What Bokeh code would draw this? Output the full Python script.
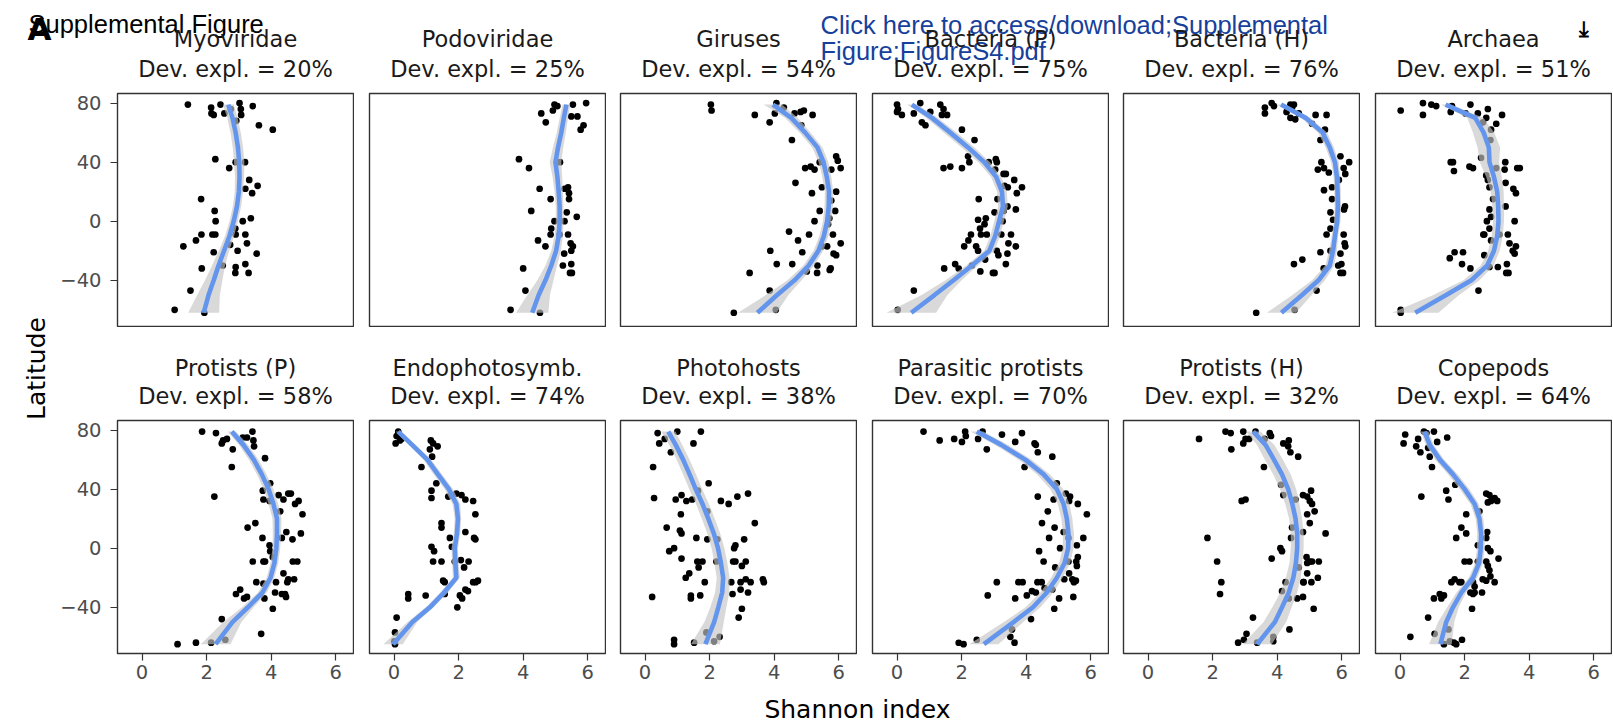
from math import pi
from bokeh.plotting import figure
from bokeh.layouts import row, column
from bokeh.models import Range1d, FixedTicker, Label
from bokeh.embed import file_html
from bokeh.resources import INLINE

# ---------------- data ----------------
names = ["Myoviridae", "Podoviridae", "Giruses", "Bacteria (P)", "Bacteria (H)", "Archaea",
         "Protists (P)", "Endophotosymb.", "Photohosts", "Parasitic protists", "Protists (H)", "Copepods"]
dev_expl = [20, 25, 54, 75, 76, 51, 58, 74, 38, 70, 32, 64]

x_ticks = [0, 2, 4, 6]
y_ticks = [-40, 0, 40, 80]

# latitudes at which the smooth fit was read (top row / bottom row)
lat_fit_top = [-62, -50, -40, -30, -20, -10, 0, 10, 20, 30, 40, 50, 60, 70, 79]
lat_fit_bot = [-65, -50, -40, -30, -20, -10, 0, 10, 20, 30, 40, 50, 60, 70, 79]

# Myoviridae
myo_x = [1.42, 2.14, 2.15, 2.22, 2.43, 2.55, 2.75, 3.02, 3.06, 3.07, 3.43, 2.92, 3.62, 4.05, 2.27, 2.70, 2.90, 3.19, 3.32, 3.58, 3.20, 3.41, 1.83, 2.25, 2.28, 3.12, 3.37, 2.89, 1.84, 2.18, 2.27, 2.90, 3.20, 1.67, 1.28, 3.25, 2.73, 2.22, 2.96, 3.55, 2.50, 2.90, 3.20, 2.89, 3.30, 1.85, 1.50, 1.01, 1.93]
myo_y = [79, 77, 73, 72, 79, 73, 76, 80, 76, 72, 78, 68, 65, 62, 42, 36, 40, 40, 28, 24, 22, 19, 15, 7, 0, 0, 2, -5, -9, -9, -9, -9, -9, -13, -17, -15, -16, -21, -20, -22, -30, -31, -29, -35, -35, -32, -47, -60, -62]
myo_fit = [1.91, 2.06, 2.22, 2.37, 2.54, 2.71, 2.84, 2.94, 3.00, 3.02, 3.01, 2.97, 2.90, 2.80, 2.67]
myo_se = [0.48, 0.35, 0.27, 0.20, 0.16, 0.14, 0.13, 0.13, 0.13, 0.14, 0.16, 0.16, 0.16, 0.16, 0.17]

# Podoviridae
podo_x = [4.97, 5.06, 4.92, 5.54, 5.95, 4.56, 4.70, 5.68, 5.49, 5.87, 5.78, 3.87, 4.18, 5.14, 4.51, 5.39, 5.42, 5.28, 4.85, 5.42, 4.25, 5.35, 5.66, 4.97, 5.28, 4.87, 4.85, 5.39, 5.13, 4.46, 4.69, 5.47, 5.54, 5.49, 5.27, 5.23, 5.49, 5.45, 5.51, 4.00, 4.07, 3.61, 4.52]
podo_y = [79, 78, 75, 79, 80, 73, 67, 71, 71, 65, 62, 42, 36, 40, 22, 23, 19, 22, 15, 15, 7, 6, 3, 0, 0, -5, -9, -9, -9, -13, -17, -15, -17, -20, -22, -30, -29, -35, -35, -32, -47, -60, -62]
podo_fit = [4.28, 4.48, 4.69, 4.87, 5.02, 5.10, 5.13, 5.13, 5.10, 5.06, 5.00, 5.08, 5.18, 5.26, 5.34]
podo_se = [0.50, 0.35, 0.25, 0.18, 0.15, 0.13, 0.12, 0.12, 0.13, 0.15, 0.18, 0.16, 0.14, 0.13, 0.12]

# Giruses
gir_x = [2.04, 2.06, 4.07, 4.02, 4.30, 3.40, 3.86, 4.63, 4.82, 4.92, 5.19, 4.84, 4.55, 5.92, 5.97, 6.06, 4.96, 5.13, 5.25, 5.41, 5.77, 4.66, 5.48, 5.17, 5.92, 5.77, 5.89, 5.41, 5.25, 5.71, 5.67, 4.46, 4.74, 5.08, 5.82, 3.88, 4.87, 5.64, 6.06, 5.48, 5.92, 5.84, 4.08, 4.56, 5.34, 5.33, 5.75, 5.72, 5.01, 3.24, 3.86, 4.05, 2.75]
gir_y = [79, 75, 80, 73, 77, 72, 67, 73, 74, 75, 72, 65, 55, 44, 41, 36, 36, 37, 35, 40, 35, 26, 23, 19, 20, 14, 7, 7, 0, 2, -2, -7, -13, -9, -9, -20, -21, -17, -15, -17, -23, -22, -29, -29, -30, -35, -32, -33, -34, -35, -47, -60, -62]
gir_fit = [3.48, 4.09, 4.63, 5.07, 5.37, 5.54, 5.64, 5.69, 5.70, 5.63, 5.53, 5.34, 4.96, 4.53, 3.96]
gir_se = [0.60, 0.35, 0.22, 0.17, 0.15, 0.14, 0.13, 0.13, 0.13, 0.14, 0.15, 0.16, 0.17, 0.20, 0.28]

# Bacteria (P)
bacp_x = [0.00, 0.03, 0.00, 0.15, 0.72, 0.52, 1.03, 0.77, 0.88, 1.34, 1.44, 1.39, 1.55, 2.01, 2.40, 1.44, 1.65, 2.01, 2.20, 2.24, 2.84, 3.06, 3.09, 3.04, 3.30, 3.37, 3.63, 3.33, 3.43, 3.87, 3.71, 3.11, 2.53, 3.42, 3.68, 3.02, 3.30, 2.51, 2.75, 2.71, 2.57, 3.27, 2.29, 2.60, 2.78, 3.23, 3.53, 2.21, 2.08, 2.45, 2.51, 3.45, 3.68, 3.09, 3.14, 3.42, 3.37, 2.73, 1.46, 1.80, 1.91, 2.32, 2.58, 2.97, 3.02, 0.52, 0.02]
bacp_y = [79, 76, 74, 72, 80, 73, 74, 67, 65, 79, 76, 72, 72, 62, 55, 36, 37, 36, 44, 40, 40, 42, 40, 35, 32, 32, 28, 24, 23, 23, 19, 15, 15, 10, 8, 6, 7, 1, 2, -2, -5, 0, -9, -9, -9, -9, -9, -13, -17, -17, -20, -15, -17, -20, -23, -22, -29, -26, -32, -29, -32, -30, -34, -35, -35, -47, -60]
bacp_fit = [0.44, 1.16, 1.75, 2.32, 2.86, 3.04, 3.16, 3.28, 3.25, 3.07, 2.70, 2.20, 1.65, 1.08, 0.46]
bacp_se = [0.77, 0.40, 0.25, 0.18, 0.16, 0.15, 0.15, 0.15, 0.15, 0.16, 0.18, 0.20, 0.20, 0.18, 0.15]

# Bacteria (H)
bach_x = [3.62, 3.62, 3.83, 3.90, 4.41, 4.52, 4.46, 4.29, 4.67, 4.41, 4.56, 5.19, 5.53, 5.08, 5.48, 5.34, 5.96, 6.23, 5.37, 5.45, 5.26, 6.06, 6.11, 5.60, 5.91, 5.45, 5.70, 5.70, 6.10, 6.07, 5.65, 5.73, 5.65, 6.06, 5.53, 6.09, 6.11, 5.34, 5.96, 5.65, 4.78, 4.52, 5.44, 5.89, 5.99, 5.96, 6.04, 5.22, 4.54, 3.35]
bach_y = [77, 73, 80, 78, 79, 79, 77, 74, 73, 70, 69, 72, 72, 66, 62, 55, 44, 40, 40, 36, 35, 36, 32, 33, 28, 21, 23, 15, 10, 8, 6, 1, -5, -9, -9, -15, -17, -21, -22, -20, -26, -29, -32, -30, -29, -35, -35, -47, -60, -62]
bach_fit = [4.13, 4.77, 5.28, 5.63, 5.73, 5.79, 5.86, 5.88, 5.87, 5.85, 5.79, 5.63, 5.41, 4.88, 4.12]
bach_se = [0.45, 0.30, 0.20, 0.14, 0.12, 0.10, 0.10, 0.10, 0.10, 0.10, 0.12, 0.13, 0.14, 0.14, 0.14]

# Archaea
arch_x = [0.02, 0.71, 0.71, 0.97, 1.12, 1.57, 1.61, 2.18, 2.03, 2.41, 2.72, 2.67, 2.57, 3.16, 2.98, 2.82, 2.80, 2.51, 1.57, 1.64, 1.67, 2.15, 2.26, 3.26, 3.24, 3.63, 3.71, 2.98, 2.67, 2.72, 3.27, 2.77, 3.51, 3.59, 2.88, 3.27, 2.77, 2.82, 3.55, 2.69, 2.77, 2.58, 2.61, 3.08, 3.34, 2.82, 3.39, 3.59, 3.49, 3.55, 2.61, 1.69, 1.95, 1.54, 1.92, 2.18, 2.77, 3.03, 3.31, 3.29, 3.36, 2.43, 0.02, 0.02]
arch_y = [75, 80, 72, 79, 78, 74, 78, 79, 73, 73, 76, 70, 67, 72, 66, 62, 55, 43, 40, 40, 34, 37, 36, 40, 35, 36, 36, 36, 31, 28, 26, 23, 22, 19, 15, 10, 8, 3, 0, 0, -5, -9, -9, -9, -9, -13, -15, -17, -20, -22, -23, -21, -21, -25, -29, -32, -31, -31, -29, -35, -35, -47, -60, -62]
arch_fit = [0.47, 1.43, 2.21, 2.70, 2.91, 3.01, 3.05, 3.04, 3.01, 2.91, 2.77, 2.75, 2.59, 2.33, 1.41]
arch_se = [0.72, 0.40, 0.25, 0.20, 0.18, 0.17, 0.17, 0.18, 0.20, 0.24, 0.30, 0.35, 0.33, 0.25, 0.15]

# Protists (P)
prop_x = [1.86, 2.29, 2.51, 2.47, 2.63, 2.81, 3.12, 3.25, 3.42, 3.45, 3.47, 3.81, 2.78, 2.24, 3.97, 3.74, 3.76, 4.23, 4.38, 4.53, 4.61, 4.74, 4.85, 3.95, 4.28, 4.97, 3.51, 3.27, 4.47, 4.92, 3.73, 4.66, 4.33, 3.95, 3.97, 4.05, 3.43, 3.81, 3.76, 4.67, 4.81, 4.38, 4.53, 4.50, 4.71, 3.54, 3.76, 4.15, 3.04, 2.91, 3.25, 3.16, 4.12, 4.33, 4.43, 4.46, 3.79, 4.05, 2.47, 3.69, 1.10, 1.67, 2.14, 2.58]
prop_y = [79, 78, 73, 71, 74, 67, 75, 75, 79, 73, 69, 61, 55, 35, 44, 39, 33, 36, 33, 37, 37, 30, 32, 32, 25, 23, 17, 14, 11, 10, 7, 6, 7, 2, -2, -6, -9, -9, -9, -9, -9, -17, -21, -23, -21, -23, -24, -23, -28, -31, -33, -34, -30, -31, -31, -33, -34, -41, -48, -58, -65, -64, -64, -62]
prop_fit = [2.28, 2.80, 3.28, 3.73, 3.98, 4.10, 4.16, 4.18, 4.18, 4.07, 3.92, 3.71, 3.46, 3.14, 2.78]
prop_se = [0.46, 0.28, 0.18, 0.14, 0.12, 0.12, 0.12, 0.13, 0.14, 0.15, 0.15, 0.15, 0.15, 0.14, 0.13]

# Endophotosymb.
endo_x = [0.13, 0.08, 0.05, 0.18, 0.23, 1.14, 1.21, 1.35, 1.11, 1.18, 0.85, 1.31, 1.16, 1.16, 1.68, 1.93, 2.09, 2.21, 2.45, 2.52, 1.47, 1.47, 2.21, 1.73, 2.48, 2.52, 1.16, 1.24, 1.79, 1.21, 1.47, 2.07, 2.31, 2.17, 1.88, 1.52, 1.57, 2.45, 2.60, 2.53, 2.21, 2.29, 2.04, 2.11, 0.44, 0.44, 0.98, 1.96, 1.57, 0.08, 0.03, 0.01, 0.03]
endo_y = [79, 76, 71, 73, 74, 73, 71, 69, 67, 62, 55, 44, 39, 34, 35, 37, 36, 33, 32, 23, 17, 14, 11, 7, 7, 6, 1, -2, 1, -9, -9, -8, -9, -13, -9, -22, -23, -23, -22, -23, -28, -29, -32, -34, -31, -34, -32, -40, -31, -47, -57, -63, -65]
endo_fit = [-0.03, 0.57, 1.11, 1.55, 1.93, 1.90, 1.88, 1.95, 1.98, 1.93, 1.70, 1.36, 1.03, 0.56, 0.13]
endo_se = [0.30, 0.15, 0.12, 0.12, 0.11, 0.10, 0.10, 0.10, 0.10, 0.12, 0.13, 0.13, 0.12, 0.10, 0.08]

# Photohosts
phot_x = [0.39, 0.44, 0.61, 1.00, 0.80, 1.73, 1.50, 0.25, 0.28, 0.95, 1.13, 1.28, 1.64, 1.46, 1.97, 1.11, 2.35, 2.59, 2.86, 3.19, 3.40, 0.67, 1.08, 1.13, 1.59, 1.93, 1.93, 2.24, 3.07, 2.76, 2.80, 0.90, 0.75, 1.13, 1.62, 1.78, 1.66, 2.21, 2.73, 2.80, 3.12, 3.00, 1.37, 1.26, 1.85, 2.67, 2.96, 3.12, 3.27, 3.65, 3.68, 2.96, 3.19, 2.71, 0.22, 1.42, 1.42, 1.71, 3.00, 2.90, 0.90, 0.90, 1.52, 1.90, 2.14, 2.31]
phot_y = [78, 71, 74, 79, 65, 79, 71, 55, 34, 33, 36, 32, 39, 33, 44, 23, 32, 30, 35, 37, 17, 14, 12, 10, 7, 25, 6, 6, 6, 0, 2, 0, -2, -7, -9, -9, -13, -9, -9, -9, -9, -12, -17, -20, -23, -23, -23, -21, -23, -21, -23, -28, -30, -31, -33, -32, -34, -32, -41, -47, -62, -65, -64, -57, -63, -60]
phot_fit = [1.87, 2.14, 2.27, 2.39, 2.42, 2.35, 2.26, 2.13, 1.96, 1.78, 1.57, 1.38, 1.18, 0.95, 0.72]
phot_se = [0.45, 0.30, 0.25, 0.22, 0.20, 0.20, 0.20, 0.20, 0.20, 0.20, 0.20, 0.20, 0.20, 0.20, 0.22]

# Parasitic protists
para_x = [0.82, 1.32, 1.77, 2.01, 2.11, 2.13, 2.51, 2.65, 2.78, 3.25, 3.66, 3.87, 4.26, 4.30, 4.36, 4.81, 3.95, 4.95, 4.36, 4.85, 5.23, 5.36, 5.33, 5.60, 4.67, 5.88, 4.49, 4.88, 5.16, 5.77, 4.71, 5.31, 5.57, 5.05, 4.40, 5.60, 5.55, 5.31, 4.54, 5.57, 4.90, 5.33, 5.18, 5.43, 5.54, 5.48, 3.09, 3.76, 3.89, 4.35, 4.48, 4.18, 4.02, 4.57, 4.81, 4.30, 2.81, 3.66, 5.02, 5.46, 4.87, 4.15, 3.56, 3.51, 3.64, 1.91, 2.06, 2.47]
para_y = [79, 73, 74, 72, 79, 76, 74, 79, 67, 77, 72, 78, 71, 70, 65, 62, 55, 44, 35, 33, 37, 35, 32, 30, 25, 23, 17, 14, 11, 7, 7, 7, 2, 0, -2, -6, -9, -9, -9, -12, -13, -17, -21, -21, -22, -23, -23, -23, -23, -23, -23, -29, -32, -27, -28, -30, -32, -34, -34, -33, -41, -48, -55, -60, -64, -64, -65, -62]
para_fit = [2.69, 3.61, 4.21, 4.64, 4.95, 5.19, 5.30, 5.31, 5.26, 5.16, 4.95, 4.54, 3.97, 3.23, 2.47]
para_se = [0.45, 0.30, 0.23, 0.20, 0.18, 0.17, 0.17, 0.17, 0.17, 0.18, 0.20, 0.20, 0.20, 0.20, 0.20]

# Protists (H)
proh_x = [1.58, 2.40, 2.56, 2.58, 2.95, 2.95, 3.02, 3.33, 3.13, 3.77, 3.81, 3.61, 4.19, 4.36, 4.34, 4.41, 4.65, 3.59, 2.90, 3.02, 5.05, 4.80, 4.93, 5.01, 5.08, 5.16, 4.19, 4.57, 4.12, 4.93, 5.01, 5.50, 1.84, 4.46, 4.80, 4.43, 4.10, 4.15, 3.83, 4.91, 5.01, 4.93, 5.08, 5.29, 2.14, 4.67, 4.93, 5.26, 4.81, 4.82, 5.06, 4.26, 2.27, 2.23, 4.15, 4.62, 4.80, 4.36, 5.13, 3.25, 4.38, 3.05, 2.97, 2.79, 3.38, 3.88, 3.88]
proh_y = [74, 79, 78, 67, 79, 71, 74, 79, 74, 78, 76, 74, 71, 73, 69, 65, 62, 55, 32, 33, 39, 36, 35, 32, 30, 25, 36, 33, 43, 23, 17, 10, 7, 14, 11, 7, 0, -2, -7, -6, -9, -10, -9, -9, -9, -13, -17, -20, -23, -23, -23, -23, -23, -31, -29, -34, -33, -34, -41, -47, -55, -58, -62, -64, -64, -60, -63]
proh_fit = [3.38, 3.93, 4.15, 4.36, 4.50, 4.58, 4.62, 4.62, 4.57, 4.47, 4.34, 4.15, 3.90, 3.64, 3.26]
proh_se = [0.45, 0.35, 0.30, 0.26, 0.23, 0.20, 0.20, 0.20, 0.20, 0.22, 0.25, 0.27, 0.28, 0.27, 0.22]

# Copepods
cope_x = [0.16, 0.11, 0.56, 0.50, 0.63, 0.74, 0.82, 1.05, 1.15, 1.46, 0.87, 0.92, 0.99, 0.66, 1.43, 1.50, 1.71, 2.67, 2.77, 2.93, 3.01, 2.82, 2.72, 2.46, 2.05, 1.90, 2.05, 1.74, 2.70, 2.67, 2.41, 2.72, 2.80, 2.00, 2.15, 2.41, 2.67, 3.05, 2.72, 2.77, 2.80, 2.56, 2.67, 2.93, 1.59, 1.69, 1.84, 1.90, 2.26, 2.31, 2.18, 2.26, 2.31, 2.54, 1.23, 1.36, 1.05, 1.28, 2.23, 0.87, 1.50, 0.32, 1.07, 1.36, 1.67, 1.74, 1.92, 1.54]
cope_y = [77, 71, 74, 69, 65, 79, 78, 79, 72, 75, 68, 62, 55, 35, 39, 33, 43, 37, 36, 34, 32, 32, 31, 25, 23, 14, 10, 7, 11, 7, 2, 0, -2, -9, -9, -9, -9, -7, -12, -15, -19, -21, -22, -23, -23, -21, -23, -23, -23, -26, -30, -31, -30, -30, -31, -32, -34, -34, -41, -47, -55, -60, -58, -65, -64, -65, -62, -63]
cope_fit = [1.25, 1.43, 1.64, 1.90, 2.26, 2.45, 2.50, 2.51, 2.46, 2.31, 2.00, 1.64, 1.23, 0.92, 0.76]
cope_se = [0.35, 0.25, 0.18, 0.15, 0.13, 0.12, 0.12, 0.12, 0.12, 0.13, 0.15, 0.15, 0.14, 0.12, 0.12]

top_panels = [(myo_x, myo_y, myo_fit, myo_se), (podo_x, podo_y, podo_fit, podo_se),
              (gir_x, gir_y, gir_fit, gir_se), (bacp_x, bacp_y, bacp_fit, bacp_se),
              (bach_x, bach_y, bach_fit, bach_se), (arch_x, arch_y, arch_fit, arch_se)]
bot_panels = [(prop_x, prop_y, prop_fit, prop_se), (endo_x, endo_y, endo_fit, endo_se),
              (phot_x, phot_y, phot_fit, phot_se), (para_x, para_y, para_fit, para_se),
              (proh_x, proh_y, proh_fit, proh_se), (cope_x, cope_y, cope_fit, cope_se)]

# ---------------- layout / style ----------------
X_RANGE = (-0.76, 6.55)
Y_RANGE = (-71.3, 86.5)
FRAME_W, FRAME_H = 236, 233
LAT_W = 52
LEFT_BORDERS = [65, 15, 14, 15, 14, 15]      # left border of each column's figure
TOTAL_W = LAT_W + sum(b + FRAME_W + 1 for b in LEFT_BORDERS)
HEADER_H, MID_H, XLAB_H = 92, 92, 34
BOTTOM_AXIS = 37
BASE_SHIFT = 8        # alphabetic labels render this much lower than their anchor

FONT = "DejaVu Sans"
STRIP_COLOR = "#1A1A1A"
TICK_COLOR = "#4D4D4D"
FRAME_COLOR = "#333333"

# frame centres in page x
centres = []
_x = LAT_W
for b in LEFT_BORDERS:
    centres.append(_x + b + FRAME_W / 2)
    _x += b + FRAME_W + 1


def panel(data, lat, col, bottom_row):
    xs, ys, fit, se = data
    n = min(len(xs), len(ys))
    first_col = col == 0
    left = LEFT_BORDERS[col]
    bottom = BOTTOM_AXIS if bottom_row else 1
    p = figure(width=left + FRAME_W + 1, height=1 + FRAME_H + bottom,
               x_range=Range1d(*X_RANGE), y_range=Range1d(*Y_RANGE),
               output_backend="svg", toolbar_location=None, tools="",
               min_border_left=left, min_border_right=1, min_border_top=1, min_border_bottom=bottom,
               x_axis_location="below" if bottom_row else None,
               y_axis_location="left" if first_col else None)
    p.grid.visible = False
    p.outline_line_color = FRAME_COLOR
    p.outline_line_width = 1.4
    p.background_fill_color = "white"
    p.border_fill_color = "white"
    for ax in p.axis:
        ax.axis_line_color = None
        ax.major_tick_line_color = FRAME_COLOR
        ax.major_tick_line_width = 1.2
        ax.major_tick_out = 7
        ax.major_tick_in = 0
        ax.minor_tick_line_color = None
        ax.major_label_text_font = FONT
        ax.major_label_text_font_size = "19.5px"
        ax.major_label_text_color = TICK_COLOR
    if bottom_row:
        p.xaxis.ticker = FixedTicker(ticks=x_ticks)
        p.xaxis.major_label_standoff = 4
    if first_col:
        p.yaxis.ticker = FixedTicker(ticks=y_ticks)
        p.yaxis.major_label_overrides = {t: str(t).replace("-", "\u2212") for t in y_ticks}
        p.yaxis.major_label_standoff = 9

    p.scatter(xs[:n], ys[:n], size=6.7, color="black", line_width=0)
    lo = [f - s for f, s in zip(fit, se)]
    hi = [f + s for f, s in zip(fit, se)]
    p.harea(y=lat, x1=lo, x2=hi, fill_color="#C4C4C4", fill_alpha=0.65)
    p.line(fit, lat, line_color="#6495ED", line_width=4.6)
    return p


def strip(w, h):
    p = figure(width=w, height=h, x_range=Range1d(0, w), y_range=Range1d(h, 0),
               min_border=0, output_backend="svg", toolbar_location=None, tools="",
               x_axis_location=None, y_axis_location=None)
    p.grid.visible = False
    p.outline_line_color = None
    p.background_fill_color = "white"
    p.border_fill_color = "white"
    return p


def txt(p, x, y, text, size, font=FONT, color="black", align="center", baseline="alphabetic",
        style="normal", angle=0.0):
    if baseline == "alphabetic":
        y = y - BASE_SHIFT
    p.add_layout(Label(x=x, y=y, text=text, text_font=font, text_font_size=size,
                       text_color=color, text_align=align, text_baseline=baseline,
                       text_font_style=style, angle=angle))


# header strip (page captions + top-row strip titles); y values are baselines in page px
header = strip(TOTAL_W, HEADER_H)
txt(header, 28, 31, "Supplemental Figure", "25.5px", font="Liberation Sans", align="left")
txt(header, 27, 36, "A", "31px", align="left", style="bold")
txt(header, 820, 32, "Click here to access/download;Supplemental", "25.5px",
    font="Liberation Sans", color="#173F9C", align="left")
txt(header, 820, 58, "Figure;FigureS4.pdf", "25.5px",
    font="Liberation Sans", color="#173F9C", align="left")
txt(header, 1583, 37, "\u2913", "22px", style="bold")
for i in range(6):
    txt(header, centres[i], 46.7, names[i], "22.5px", color=STRIP_COLOR)
    txt(header, centres[i], 76, f"Dev. expl. = {dev_expl[i]}%", "22.5px", color=STRIP_COLOR)

# middle strip (bottom-row strip titles); starts at page y = HEADER_H + row1 height
RIGHT_W = TOTAL_W - LAT_W
mid_top = HEADER_H + 1 + FRAME_H + 1
mid = strip(RIGHT_W, MID_H)
for i in range(6):
    txt(mid, centres[i] - LAT_W, 375.7 - mid_top, names[6 + i], "22.5px", color=STRIP_COLOR)
    txt(mid, centres[i] - LAT_W, 403.3 - mid_top, f"Dev. expl. = {dev_expl[6 + i]}%", "22.5px",
        color=STRIP_COLOR)

top_row = row(*[panel(d, lat_fit_top, i, False) for i, d in enumerate(top_panels)])
bot_row = row(*[panel(d, lat_fit_bot, i, True) for i, d in enumerate(bot_panels)])

GRID_H = (1 + FRAME_H + 1) + MID_H + (1 + FRAME_H + BOTTOM_AXIS)
lat_fig = strip(LAT_W, GRID_H)
txt(lat_fig, 36, 368 - HEADER_H, "Latitude", "25px", baseline="middle", angle=pi / 2)

xlab_top = HEADER_H + GRID_H
xlab = strip(TOTAL_W, XLAB_H)
txt(xlab, 857, 717 - xlab_top, "Shannon index", "25px")

layout = column(header, row(lat_fig, column(top_row, mid, bot_row)), xlab)

open("out.html", "w").write(file_html(layout, INLINE, title="Supplemental Figure S4"))
